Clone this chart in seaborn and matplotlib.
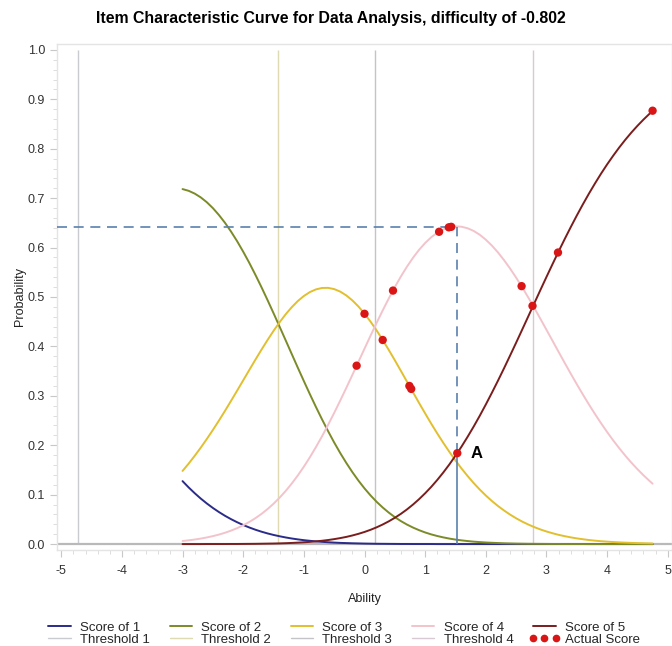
import numpy as np
import pandas as pd
import matplotlib
matplotlib.use("Agg")
import matplotlib.pyplot as plt
from matplotlib.lines import Line2D
from matplotlib.ticker import MultipleLocator
import seaborn as sns

# ---------------- data ----------------
ability = [-3.0, -2.9, -2.8, -2.7, -2.6, -2.5, -2.4, -2.3, -2.2, -2.1,
           -2.0, -1.9, -1.8, -1.7, -1.6, -1.5, -1.4, -1.3, -1.2, -1.1,
           -1.0, -0.9, -0.8, -0.7, -0.6, -0.5, -0.4, -0.3, -0.2, -0.1,
           0.0, 0.1, 0.2, 0.3, 0.4, 0.5, 0.6, 0.7, 0.8, 0.9,
           1.0, 1.1, 1.2, 1.3, 1.4, 1.5, 1.6, 1.7, 1.8, 1.9,
           2.0, 2.1, 2.2, 2.3, 2.4, 2.5, 2.6, 2.7, 2.8, 2.9,
           3.0, 3.1, 3.2, 3.3, 3.4, 3.5, 3.6, 3.7, 3.8, 3.9,
           4.0, 4.1, 4.2, 4.3, 4.4, 4.5, 4.6, 4.7, 4.75]
score1 = [0.1274, 0.1147, 0.1030, 0.0921, 0.0822, 0.0731, 0.0648, 0.0572, 0.0504, 0.0442,
          0.0386, 0.0336, 0.0291, 0.0251, 0.0216, 0.0185, 0.0158, 0.0134, 0.0113, 0.0095,
          0.0079, 0.0066, 0.0054, 0.0045, 0.0037, 0.0030, 0.0024, 0.0020, 0.0016, 0.0013,
          0.0010, 0.0008, 0.0006, 0.0005, 0.0004, 0.0003, 0.0002, 0.0002, 0.0001, 0.0001,
          0.0001, 0.0001, 0.0, 0.0, 0.0, 0.0, 0.0, 0.0, 0.0, 0.0,
          0.0, 0.0, 0.0, 0.0, 0.0, 0.0, 0.0, 0.0, 0.0, 0.0,
          0.0, 0.0, 0.0, 0.0, 0.0, 0.0, 0.0, 0.0, 0.0, 0.0,
          0.0, 0.0, 0.0, 0.0, 0.0, 0.0, 0.0, 0.0, 0.0]
score2 = [0.7184, 0.7149, 0.7093, 0.7016, 0.6918, 0.6799, 0.6659, 0.6501, 0.6323, 0.6129,
          0.5917, 0.5692, 0.5452, 0.5202, 0.4941, 0.4673, 0.4400, 0.4124, 0.3847, 0.3571,
          0.3299, 0.3032, 0.2773, 0.2523, 0.2284, 0.2056, 0.1842, 0.1642, 0.1456, 0.1284,
          0.1127, 0.0984, 0.0855, 0.0740, 0.0637, 0.0545, 0.0465, 0.0395, 0.0334, 0.0281,
          0.0235, 0.0196, 0.0163, 0.0135, 0.0111, 0.0091, 0.0075, 0.0061, 0.0049, 0.0040,
          0.0032, 0.0026, 0.0021, 0.0016, 0.0013, 0.0010, 0.0008, 0.0006, 0.0005, 0.0004,
          0.0003, 0.0002, 0.0002, 0.0001, 0.0001, 0.0001, 0.0001, 0.0, 0.0, 0.0,
          0.0, 0.0, 0.0, 0.0, 0.0, 0.0, 0.0, 0.0, 0.0]
score3 = [0.1480, 0.1627, 0.1785, 0.1951, 0.2126, 0.2309, 0.2499, 0.2696, 0.2899, 0.3105,
          0.3313, 0.3522, 0.3729, 0.3931, 0.4127, 0.4314, 0.4489, 0.4650, 0.4793, 0.4918,
          0.5020, 0.5100, 0.5154, 0.5183, 0.5185, 0.5160, 0.5109, 0.5032, 0.4931, 0.4808,
          0.4663, 0.4501, 0.4323, 0.4131, 0.3929, 0.3720, 0.3505, 0.3288, 0.3071, 0.2855,
          0.2644, 0.2437, 0.2238, 0.2047, 0.1865, 0.1692, 0.1529, 0.1377, 0.1235, 0.1104,
          0.0983, 0.0872, 0.0771, 0.0680, 0.0597, 0.0522, 0.0455, 0.0396, 0.0343, 0.0296,
          0.0255, 0.0219, 0.0187, 0.0160, 0.0136, 0.0115, 0.0098, 0.0082, 0.0069, 0.0058,
          0.0049, 0.0041, 0.0034, 0.0029, 0.0024, 0.0020, 0.0017, 0.0014, 0.0012]
score4 = [0.0062, 0.0076, 0.0092, 0.0111, 0.0134, 0.0161, 0.0192, 0.0229, 0.0272, 0.0322,
          0.0380, 0.0447, 0.0523, 0.0609, 0.0707, 0.0816, 0.0939, 0.1074, 0.1224, 0.1388,
          0.1566, 0.1758, 0.1964, 0.2182, 0.2413, 0.2654, 0.2904, 0.3161, 0.3423, 0.3688,
          0.3954, 0.4218, 0.4477, 0.4728, 0.4970, 0.5200, 0.5415, 0.5614, 0.5794, 0.5955,
          0.6093, 0.6209, 0.6301, 0.6368, 0.6411, 0.6429, 0.6422, 0.6391, 0.6337, 0.6260,
          0.6160, 0.6041, 0.5903, 0.5747, 0.5577, 0.5392, 0.5196, 0.4991, 0.4778, 0.4559,
          0.4337, 0.4114, 0.3890, 0.3668, 0.3450, 0.3236, 0.3028, 0.2826, 0.2632, 0.2446,
          0.2268, 0.2099, 0.1940, 0.1789, 0.1648, 0.1516, 0.1392, 0.1277, 0.1222]
score5 = [0.0, 0.0, 0.0, 0.0, 0.0001, 0.0001, 0.0001, 0.0001, 0.0002, 0.0002,
          0.0003, 0.0004, 0.0005, 0.0007, 0.0009, 0.0011, 0.0014, 0.0018, 0.0023, 0.0029,
          0.0036, 0.0044, 0.0055, 0.0067, 0.0082, 0.0100, 0.0121, 0.0145, 0.0174, 0.0207,
          0.0245, 0.0289, 0.0339, 0.0396, 0.0460, 0.0532, 0.0612, 0.0701, 0.0800, 0.0909,
          0.1028, 0.1157, 0.1298, 0.1450, 0.1613, 0.1788, 0.1973, 0.2171, 0.2378, 0.2596,
          0.2824, 0.3061, 0.3305, 0.3556, 0.3814, 0.4075, 0.4340, 0.4607, 0.4874, 0.5141,
          0.5405, 0.5665, 0.5921, 0.6171, 0.6413, 0.6648, 0.6874, 0.7091, 0.7298, 0.7496,
          0.7683, 0.7859, 0.8026, 0.8182, 0.8328, 0.8464, 0.8591, 0.8709, 0.8765]

score_names = ["Score of 1", "Score of 2", "Score of 3", "Score of 4", "Score of 5"]
thresholds = [-4.73, -1.42, 0.165, 2.78]
threshold_names = ["Threshold 1", "Threshold 2", "Threshold 3", "Threshold 4"]

actual_x = [-0.13, 0.00, 0.30, 0.47, 0.74, 0.77, 1.23, 1.39, 1.43, 1.53, 2.59, 2.77, 3.19, 4.75]
actual_y = [0.361, 0.466, 0.413, 0.513, 0.320, 0.314, 0.632, 0.641, 0.642, 0.184, 0.522, 0.482, 0.590, 0.877]

marker_x = 1.53      # point "A"
marker_y = 0.184
peak_y = 0.642       # max probability of Score of 4

title = "Item Characteristic Curve for Data Analysis, difficulty of -0.802"

# ---------------- styling ----------------
score_colors = ["#2b2b8a", "#7d8a28", "#e2bf2e", "#f3c3cb", "#7a1d1d"]
threshold_colors = ["#cacbd0", "#dedbb2", "#c4c4c8", "#d8cad2"]
ref_color = "#5b80ad"
point_color = "#d91515"

sns.set_style("white")
plt.rcParams["font.family"] = ["Liberation Sans", "DejaVu Sans"]
plt.rcParams["axes.unicode_minus"] = False

fig = plt.figure(figsize=(6.72, 6.46), dpi=100)
ax = fig.add_axes([57 / 672, 1 - 550 / 646, 615 / 672, 506 / 646])

xlim = (-5.07, 5.07)
ax.set_xlim(*xlim)
ax.set_ylim(-0.012, 1.012)

# threshold reference lines
for t, c in zip(thresholds, threshold_colors):
    ax.vlines(t, 0, 1.0, colors=c, linewidth=1.0, zorder=1)

ax.axhline(0, color="#b9b9b9", linewidth=1.6, zorder=1)

# curves
df = pd.DataFrame({"Ability": ability, score_names[0]: score1, score_names[1]: score2,
                   score_names[2]: score3, score_names[3]: score4, score_names[4]: score5})
long = df.melt(id_vars="Ability", var_name="Series", value_name="Probability")
sns.lineplot(data=long, x="Ability", y="Probability", hue="Series",
             hue_order=score_names, palette=score_colors, linewidth=1.4,
             legend=False, ax=ax, zorder=3)

# reference (drop) lines
ax.hlines(peak_y, xlim[0], marker_x, colors=ref_color, linestyles=(0, (6, 4)), linewidth=1.2, zorder=4)
ax.vlines(marker_x, marker_y, peak_y, colors=ref_color, linestyles=(0, (6, 4)), linewidth=1.2, zorder=4)
ax.vlines(marker_x, 0, marker_y, colors=ref_color, linewidth=1.2, zorder=4)

# actual scores
sns.scatterplot(x=actual_x, y=actual_y, color=point_color, s=36, edgecolor="none",
                ax=ax, zorder=5, legend=False)
ax.text(marker_x + 0.22, marker_y, "A", fontsize=12, fontweight="bold",
        va="center", ha="left", color="black", zorder=6)

# axes cosmetics
ax.set_xlabel("Ability", fontsize=9, color="#222222", labelpad=11)
ax.set_ylabel("Probability", fontsize=9, color="#222222", labelpad=1.5)
ax.set_xticks([-5, -4, -3, -2, -1, 0, 1, 2, 3, 4, 5])
ax.set_yticks([0.0, 0.1, 0.2, 0.3, 0.4, 0.5, 0.6, 0.7, 0.8, 0.9, 1.0])
ax.set_yticklabels([f"{v:.1f}" for v in ax.get_yticks()])
ax.xaxis.set_minor_locator(MultipleLocator(0.2))
ax.yaxis.set_minor_locator(MultipleLocator(0.02))
ax.tick_params(axis="both", which="major", direction="out", length=5, width=0.8,
               color="#c8c8c8", labelsize=9, labelcolor="#333333")
ax.tick_params(axis="both", which="minor", direction="out", length=3, width=0.6,
               color="#d8d8d8")
ax.tick_params(axis="x", which="both", bottom=True)
ax.tick_params(axis="y", which="both", left=True)
ax.tick_params(axis="x", pad=6)
for side in ["top", "left", "bottom", "right"]:
    ax.spines[side].set_color("#e4e4e4")
    ax.spines[side].set_linewidth(1.0)

# legend
score_handles = [Line2D([], [], color=c, linewidth=1.4) for c in score_colors]
thr_handles = [Line2D([], [], color=c, linewidth=1.0) for c in threshold_colors]
act_handle = Line2D([], [], color=point_color, marker="o", linestyle="None", markersize=4.5)
handles, labels = [], []
for i in range(5):
    handles.append(score_handles[i]); labels.append(score_names[i])
    if i < 4:
        handles.append(thr_handles[i]); labels.append(threshold_names[i])
    else:
        handles.append(act_handle); labels.append("Actual Score")
fig.legend(handles, labels, ncol=5, loc="lower center", bbox_to_anchor=(0.509, -0.014),
           frameon=False, fontsize=9.5, handlelength=2.3, handletextpad=0.4,
           columnspacing=1.2, labelspacing=0.0, numpoints=3, borderaxespad=0.3)

fig.text(0.492, 1 - 18 / 646, title, ha="center", va="center",
         fontsize=11.4, fontweight="bold", color="black")

fig.savefig("out.png", dpi=100)
